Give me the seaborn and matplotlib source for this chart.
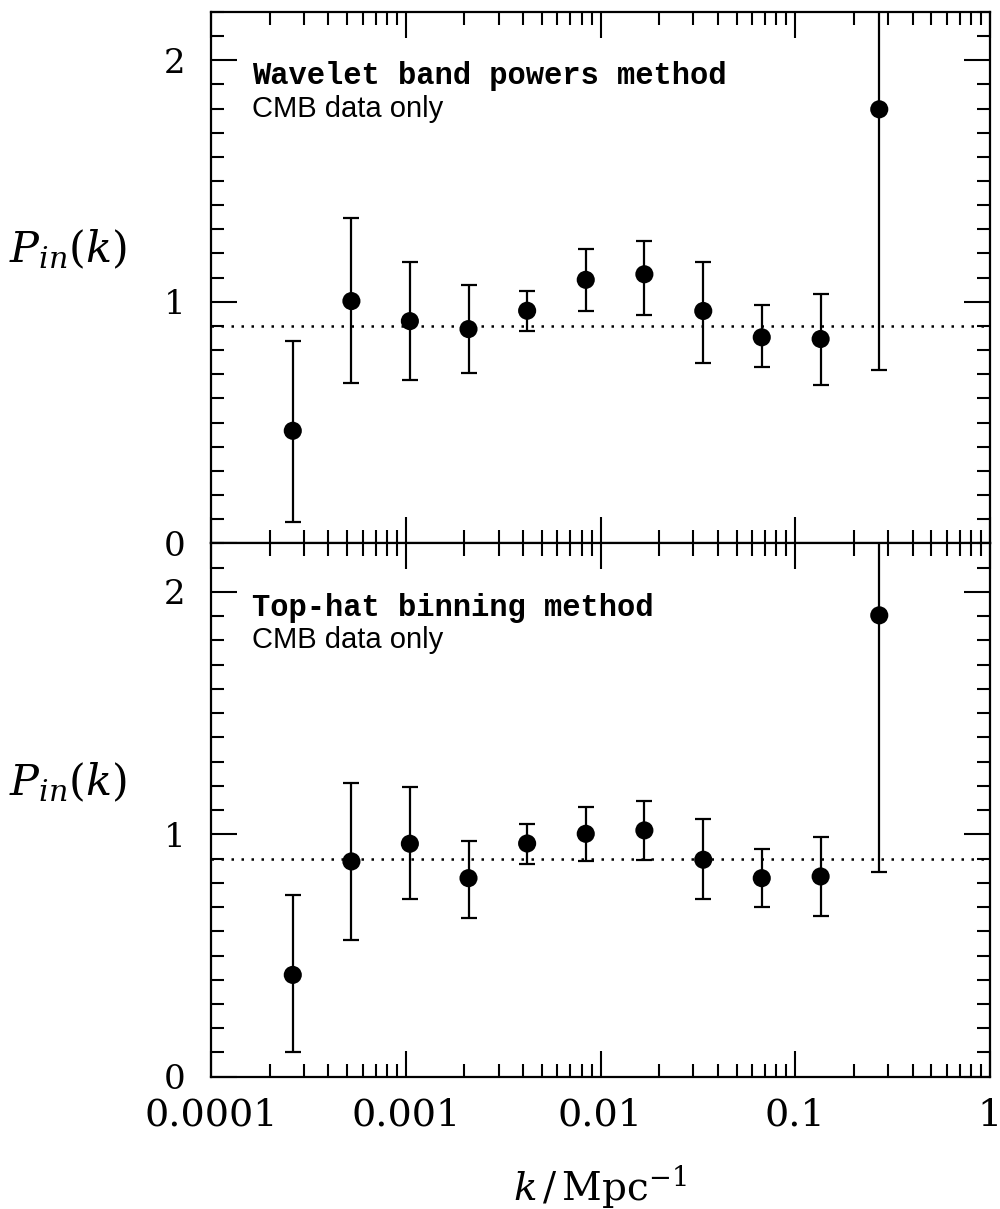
import matplotlib
matplotlib.use("Agg")
import matplotlib.pyplot as plt
from matplotlib.ticker import MultipleLocator, FixedLocator, FixedFormatter, LogLocator, NullFormatter
import pandas as pd
import seaborn as sns

# band centres in k (Mpc^-1)
k = [0.000263, 0.000526, 0.00105, 0.0021, 0.0042, 0.0084, 0.0168, 0.0337, 0.0673, 0.135, 0.27]

# wavelet band powers
wav_p = [0.466, 1.003, 0.920, 0.887, 0.963, 1.091, 1.114, 0.962, 0.853, 0.846, 1.797]
wav_hi = [0.838, 1.346, 1.166, 1.070, 1.045, 1.219, 1.253, 1.166, 0.988, 1.031, 2.90]
wav_lo = [0.087, 0.664, 0.677, 0.704, 0.880, 0.963, 0.947, 0.745, 0.731, 0.657, 0.716]

# top-hat binning
top_p = [0.420, 0.888, 0.961, 0.819, 0.962, 1.002, 1.016, 0.895, 0.819, 0.826, 1.903]
top_hi = [0.749, 1.211, 1.193, 0.974, 1.043, 1.111, 1.138, 1.064, 0.941, 0.988, 3.00]
top_lo = [0.103, 0.562, 0.732, 0.656, 0.879, 0.888, 0.895, 0.732, 0.698, 0.663, 0.846]

fiducial = 0.9
xtick_vals = [1e-4, 1e-3, 1e-2, 1e-1, 1]
xtick_labels = ['0.0001', '0.001', '0.01', '0.1', '1']
ytick_vals = [0, 1, 2]
ytick_labels = ['0', '1', '2']
titles = ['Wavelet band powers method', 'Top-hat binning method']
subtitle = 'CMB data only'

sns.set_theme(style='ticks')
plt.rcParams['font.family'] = ['DejaVu Serif']
plt.rcParams['mathtext.fontset'] = 'dejavuserif'
for key in ['text.color', 'axes.labelcolor', 'xtick.color', 'ytick.color', 'axes.edgecolor']:
    plt.rcParams[key] = 'black'

fig = plt.figure(figsize=(10, 12.09), dpi=100)
ax_top = fig.add_axes([0.211, 0.5506, 0.779, 0.4395])
ax_bot = fig.add_axes([0.211, 0.1094, 0.779, 0.4412])

panels = [(ax_top, wav_p, wav_lo, wav_hi), (ax_bot, top_p, top_lo, top_hi)]

for i, (ax, p, lo, hi) in enumerate(panels):
    df = pd.DataFrame({'k': k, 'P': p, 'lo': lo, 'hi': hi})
    ax.axhline(fiducial, color='black', lw=1.8, linestyle=(0, (1.0, 3.0)), zorder=1)
    ax.errorbar(df['k'], df['P'], yerr=[df['P'] - df['lo'], df['hi'] - df['P']],
                fmt='none', ecolor='black', elinewidth=1.6, capsize=5.8, capthick=1.6, zorder=2)
    sns.scatterplot(x='k', y='P', data=df, ax=ax, color='black', s=170,
                    edgecolor='none', zorder=3, legend=False)

    ax.set_xscale('log')
    ax.set_xlim(1e-4, 1)
    ax.set_ylim(0, 2.2)
    ax.xaxis.set_major_locator(FixedLocator(xtick_vals))
    ax.xaxis.set_minor_locator(LogLocator(base=10, subs=range(2, 10), numticks=20))
    ax.xaxis.set_minor_formatter(NullFormatter())
    ax.yaxis.set_major_locator(FixedLocator(ytick_vals))
    ax.yaxis.set_major_formatter(FixedFormatter(ytick_labels))
    ax.yaxis.set_minor_locator(MultipleLocator(0.1))

    ax.tick_params(which='both', direction='in', top=True, right=True,
                   width=1.5, color='black')
    ax.tick_params(which='major', length=18.7)
    ax.tick_params(which='minor', length=9.4)
    ax.tick_params(axis='y', which='major', labelsize=24.5, pad=18.5)
    ax.tick_params(axis='x', which='major', labelsize=27.5, pad=15)
    for s in ax.spines.values():
        s.set_linewidth(1.6)
        s.set_color('black')

    ax.set_ylabel(r'$P_{in}(k)$', fontsize=31, rotation=0, ha='center', va='center')
    ax.yaxis.set_label_coords(-0.184, 0.552)

    ax.text(0.0526, 0.864, titles[i], transform=ax.transAxes, fontsize=22,
            family='Liberation Mono', fontweight='bold', va='baseline', ha='left')
    ax.text(0.0526, 0.803, subtitle, transform=ax.transAxes, fontsize=21,
            family='Liberation Sans', va='baseline', ha='left')

ax_top.xaxis.set_major_formatter(NullFormatter())
ax_top.set_xlabel('')
ax_bot.xaxis.set_major_formatter(FixedFormatter(xtick_labels))
ax_bot.set_xlabel(r'$k\,/\,\mathrm{Mpc}^{-1}$', fontsize=28, va='center')
ax_bot.xaxis.set_label_coords(0.5, -0.207)

fig.savefig('out.png', dpi=100)
